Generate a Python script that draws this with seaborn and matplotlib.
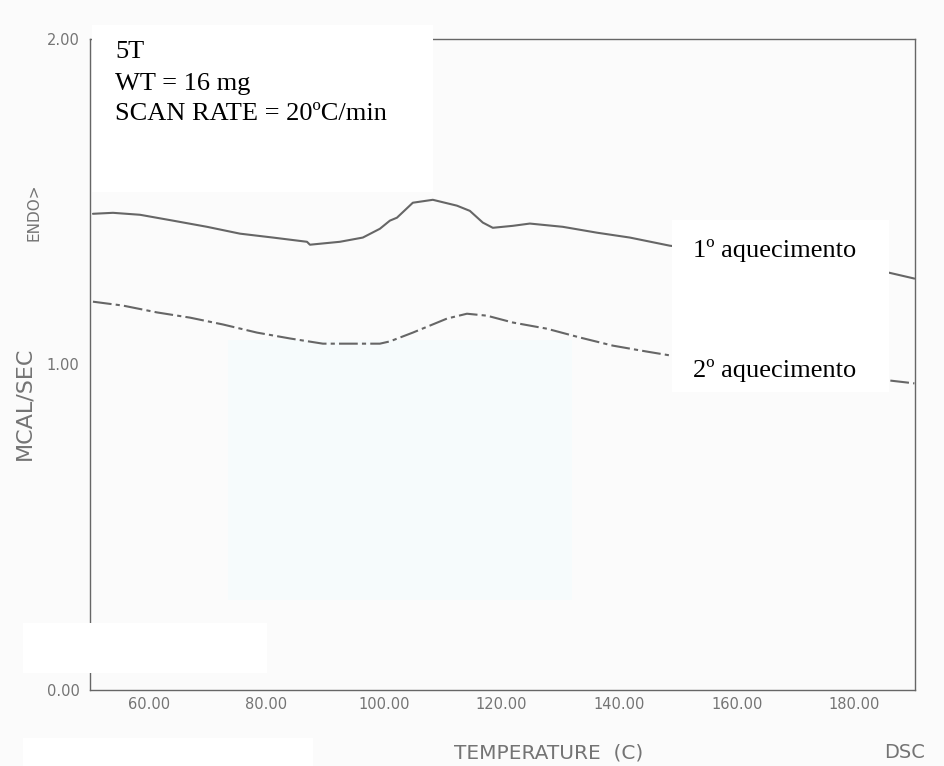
import numpy as np
import pandas as pd
import matplotlib
matplotlib.use("Agg")
import matplotlib.pyplot as plt
from matplotlib.patches import Rectangle
from matplotlib import font_manager
import seaborn as sns

# DSC heat-flow traces, sample 5T (temperature in C, heat flow in mcal/s)
temp_1st = [50.5, 53.9, 58.5, 64.1, 69.9, 75.5, 81.1, 86.9, 87.4, 92.5, 96.4, 99.3,
            101.0, 102.2, 104.9, 108.3, 112.4, 114.6, 116.8, 118.5, 121.9, 124.8,
            130.4, 136.2, 141.8, 148.6, 185.9, 190.2]
flow_1st = [1.463, 1.466, 1.460, 1.442, 1.423, 1.402, 1.390, 1.377, 1.368, 1.377, 1.390, 1.417,
            1.442, 1.451, 1.497, 1.506, 1.488, 1.472, 1.436, 1.420, 1.426, 1.433,
            1.423, 1.405, 1.390, 1.365, 1.282, 1.264]

temp_2nd = [50.5, 55.6, 61.4, 67.0, 72.6, 78.4, 84.0, 89.6, 95.4, 99.3, 101.0, 104.9,
            110.7, 114.1, 117.5, 121.9, 127.7, 133.3, 138.9, 144.6, 148.6, 185.9, 190.2]
flow_2nd = [1.193, 1.181, 1.160, 1.144, 1.123, 1.098, 1.080, 1.064, 1.064, 1.064, 1.071, 1.098,
            1.141, 1.156, 1.150, 1.129, 1.110, 1.083, 1.058, 1.040, 1.028, 0.951, 0.942]

x_ticks = [60, 80, 100, 120, 140, 160, 180]
x_tick_labels = ["60.00", "80.00", "100.00", "120.00", "140.00", "160.00", "180.00"]
y_ticks = [0.0, 0.5, 1.0, 1.5, 2.0]
y_tick_labels = ["0.00", "", "1.00", "", "2.00"]

info_lines = ["5T", "WT = 16 mg", "SCAN RATE = 20ºC/min"]
series_labels = ["1º aquecimento", "2º aquecimento"]

df1 = pd.DataFrame({"T": temp_1st, "Q": flow_1st})
df2 = pd.DataFrame({"T": temp_2nd, "Q": flow_2nd})

sns.set_theme(style="white")
plt.rcParams["font.family"] = ["DejaVu Sans"]

names = {f.name for f in font_manager.fontManager.ttflist}
if "Liberation Sans Narrow" in names:
    tick_family, tick_size = "Liberation Sans Narrow", 12.5
else:
    tick_family, tick_size = "DejaVu Sans", 10.5
serif = ["Liberation Serif", "DejaVu Serif"]

W, H = 945, 766
BG = "#fbfbfb"
INK = "#747474"
TRACE = "#666666"

fig = plt.figure(figsize=(W / 100, H / 100), dpi=100, facecolor=BG)


def frac_rect(x0, y0, x1, y1):
    """Pixel box (top-left origin) -> figure-fraction rectangle args."""
    return (x0 / W, 1 - y1 / H), (x1 - x0) / W, (y1 - y0) / H


ax = fig.add_axes([90 / W, 1 - 690 / H, 825 / W, 651 / H])
ax.set_facecolor("none")

# faint tinted area of the paper
xy, w, h = frac_rect(228, 340, 572, 600)
ax.add_patch(Rectangle(xy, w, h, transform=fig.transFigure, facecolor="#f6fbfc",
                       edgecolor="none", zorder=0.2))

sns.lineplot(data=df1, x="T", y="Q", ax=ax, color=TRACE, lw=1.5, sort=False,
             estimator=None)
sns.lineplot(data=df2, x="T", y="Q", ax=ax, color=TRACE, lw=1.5, sort=False,
             estimator=None, linestyle=(0, (9, 2, 2, 2)))

ax.set_xlim(50, 190.3)
ax.set_ylim(0, 2.0)
ax.set_xticks(x_ticks)
ax.set_xticklabels(x_tick_labels, family=tick_family, size=tick_size, color=INK)
ax.set_yticks(y_ticks)
ax.set_yticklabels(y_tick_labels, family=tick_family, size=tick_size, color=INK)
ax.tick_params(axis="x", direction="inout", length=7, width=1, color="#666", pad=1.5)
ax.tick_params(axis="y", direction="inout", length=7, width=1, color="#666", pad=4)
ax.set_xlabel("")
ax.set_ylabel("")
for s in ax.spines.values():
    s.set_visible(True)
    s.set_color("#666")
    s.set_linewidth(1.0)

# axis titles in the plotter's lettering
fig.text(24 / W, 1 - 403 / H, "MCAL/SEC", rotation=90, ha="center", va="center",
         size=16, color=INK)
fig.text(34 / W, 1 - 212 / H, "ENDO>", rotation=90, ha="center", va="center",
         size=11, color=INK)
fig.text(549 / W, 1 - 753 / H, "TEMPERATURE  (C)", ha="center", va="center",
         size=14.5, color=INK)
fig.text(905 / W, 1 - 753 / H, "DSC", ha="center", va="center", size=14, color=INK)

# white label boxes with the annotations
for box in [(92, 25, 433, 192), (672, 220, 889, 392), (23, 623, 267, 673), (23, 738, 313, 766)]:
    xy, w, h = frac_rect(*box)
    fig.add_artist(Rectangle(xy, w, h, transform=fig.transFigure, facecolor="white",
                             edgecolor="none", zorder=2))

for line, base in zip(info_lines, [58, 90, 120]):
    fig.text(115 / W, 1 - base / H, line, family=serif, size=19, color="black",
             ha="left", va="baseline", zorder=3)

for lab, base in zip(series_labels, [257, 377]):
    fig.text(693 / W, 1 - base / H, lab, family=serif, size=19, color="black",
             ha="left", va="baseline", zorder=3)

fig.savefig("out.png", dpi=100, facecolor=BG)
